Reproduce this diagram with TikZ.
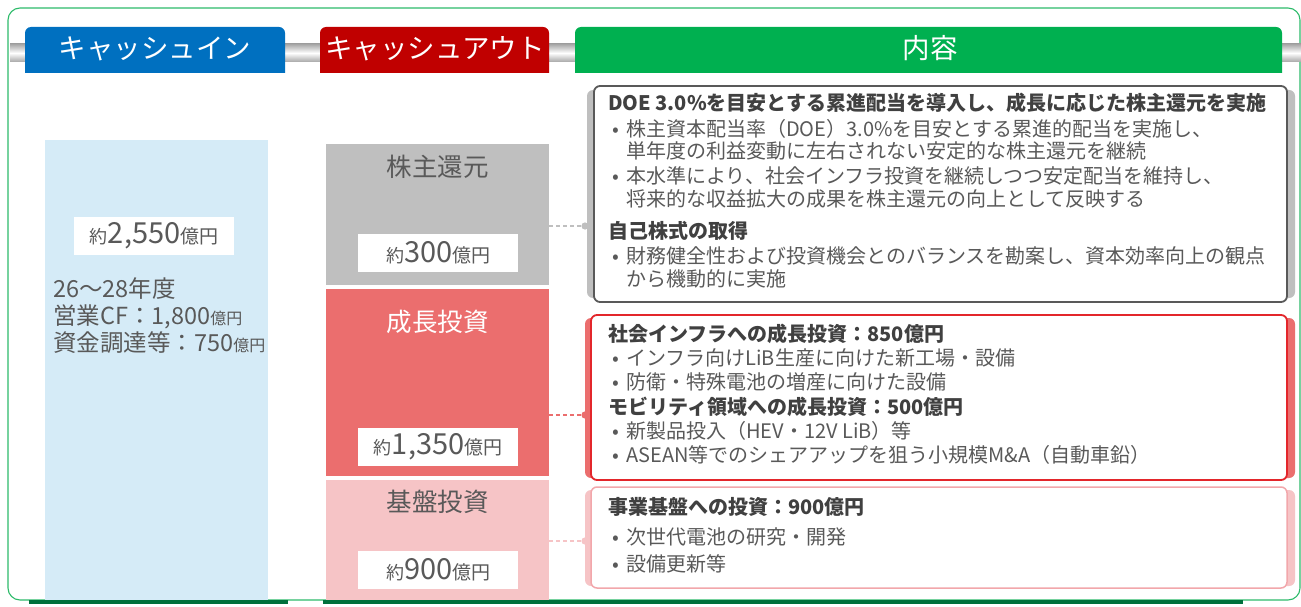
\documentclass[tikz,border=0pt]{standalone}
\usepackage{fontspec}
\setmainfont{Noto Sans CJK JP}
\definecolor{hblue}{HTML}{0070C0}
\definecolor{hred}{HTML}{C00000}
\definecolor{hgreen}{HTML}{00B050}
\definecolor{framegreen}{HTML}{2DBB6A}
\definecolor{dkgreen}{HTML}{00703C}
\definecolor{ltblue}{HTML}{D5EBF7}
\definecolor{boxgray}{HTML}{BFBFBF}
\definecolor{boxred}{HTML}{EB6E6E}
\definecolor{boxpink}{HTML}{F6C4C6}
\definecolor{txtgray}{HTML}{595959}
\definecolor{ttlgray}{HTML}{404040}
\definecolor{bord1}{HTML}{595959}
\definecolor{bord2}{HTML}{E3262B}
\definecolor{bord3}{HTML}{F2A7AB}
\begin{document}
\begin{tikzpicture}[x=1pt,y=-1pt,
  txt/.style={anchor=base west, inner sep=0pt, text=txtgray, font=\fontsize{20}{23}\selectfont},
  ttl/.style={txt, text=ttlgray, font=\fontsize{20}{23}\selectfont\bfseries},
  lefttxt/.style={anchor=base west, inner sep=0pt, text=txtgray, font=\fontsize{23.5}{26}\selectfont},
  htxt/.style={anchor=base, inner sep=0pt, text=white, font=\fontsize{27.5}{30}\selectfont},
  lbl/.style={anchor=base, inner sep=0pt, font=\fontsize{25.5}{28}\selectfont},
  valbox/.style={fill=white, minimum width=160pt, minimum height=38pt, inner sep=0pt, anchor=north west, text=txtgray},
  outbox/.style={minimum width=223pt, inner sep=0pt, anchor=north west},
  conn/.style={dash pattern=on 4pt off 3pt, line width=1.2pt},
]
\useasboundingbox (0,0) rectangle (1301,607);
\fill[white] (0,0) rectangle (1301,607);
% outer frame
\draw[framegreen, line width=1.1pt, rounded corners=12pt] (8,8) rectangle (1300,600);
% bottom dark green bars
\fill[dkgreen] (29,600) rectangle (288,604);
\fill[dkgreen] (323,600) rectangle (1243,604);
% metallic bar
\shade[top color=gray!70, bottom color=gray!70, middle color=white] (10,44) rectangle (1301,62);
% headers
\fill[hblue] (25,73) [rounded corners=6pt] -- (25,27) -- (285,27) [sharp corners] -- (285,73) -- cycle;
\fill[hred] (320,73) [rounded corners=6pt] -- (320,27) -- (549,27) [sharp corners] -- (549,73) -- cycle;
\fill[hgreen] (575,73) [rounded corners=6pt] -- (575,27) -- (1282,27) [sharp corners] -- (1282,73) -- cycle;
\node[htxt] (hin) at (155,59) {キャッシュイン};
\node[htxt] (hout) at (435,59) {キャッシュアウト};
\node[htxt] (hcon) at (930,59) {内容};
% cash in column
\node[fill=ltblue, minimum width=223pt, minimum height=460pt, inner sep=0pt, anchor=north west] (cin) at (45,140) {};
\node[valbox, font=\fontsize{18}{20}\selectfont] (vin) at (74,217) {約{\fontsize{29}{30}\selectfont 2,550}{\fontsize{19}{20}\selectfont 億円}};
\node[lefttxt] (l1) at (53,297.5) {26～28年度};
\node[lefttxt] (l2) at (53,324.5) {営業CF：1,800{\fontsize{16}{18}\selectfont 億円}};
\node[lefttxt] (l3) at (53,351.5) {資金調達等：750{\fontsize{16}{18}\selectfont 億円}};
% cash out column
\node[outbox, fill=boxgray, minimum height=141pt] (kabu) at (326,144) {};
\node[outbox, fill=boxred, minimum height=187pt] (seicho) at (326,289) {};
\node[outbox, fill=boxpink, minimum height=120pt] (kiban) at (326,480) {};
\node[lbl, text=txtgray] (kabuL) at (437.5,176) {株主還元};
\node[lbl, text=white] (seichoL) at (437.5,331) {成長投資};
\node[lbl, text=txtgray] (kibanL) at (437.5,511) {基盤投資};
\node[valbox, font=\fontsize{18}{20}\selectfont] (v1) at (358,234) {約{\fontsize{29}{30}\selectfont 300}{\fontsize{19}{20}\selectfont 億円}};
\node[valbox, font=\fontsize{18}{20}\selectfont] (v2) at (358,428) {約{\fontsize{29}{30}\selectfont 1,350}{\fontsize{19}{20}\selectfont 億円}};
\node[valbox, font=\fontsize{18}{20}\selectfont] (v3) at (358,551) {約{\fontsize{29}{30}\selectfont 900}{\fontsize{19}{20}\selectfont 億円}};
% content boxes
\fill[boxgray, rounded corners=6pt] (587,90) rectangle (1295,298);
\draw[bord1, line width=1.8pt, fill=white, rounded corners=6pt] (594,86) rectangle (1287,302);
\node[inner sep=0pt] (c1) at (940.5,194) {};
\fill[boxred, rounded corners=6pt] (585,318) rectangle (1295,478);
\draw[bord2, line width=1.8pt, fill=white, rounded corners=6pt] (591,315) rectangle (1287,480);
\node[inner sep=0pt] (c2) at (939,397.5) {};
\fill[boxpink, rounded corners=6pt] (585,490) rectangle (1295,586);
\draw[bord3, line width=1.5pt, fill=white, rounded corners=6pt] (591,487) rectangle (1287,588);
\node[inner sep=0pt] (c3) at (939,537.5) {};
% connectors
\coordinate (d1) at (585,226);
\coordinate (d2) at (585,415);
\coordinate (d3) at (585,541);
\draw[conn, boxgray] (d1 -| kabu.east) -- (d1);
\fill[boxgray] (d1) circle (3.6pt);
\draw[conn, boxred] (d2 -| seicho.east) -- (d2);
\fill[boxred] (d2) circle (3.6pt);
\draw[conn, boxpink] (d3 -| kiban.east) -- (d3);
\fill[boxpink] (d3) circle (3.6pt);
% box 1 text
\node[ttl] (t11) at (608,111) {DOE 3.0\%を目安とする累進配当を導入し、成長に応じた株主還元を実施};
\node[txt] (t12) at (605,136) {\makebox[21pt][c]{•}株主資本配当率（DOE）3.0\%を目安とする累進的配当を実施し、};
\node[txt] (t13) at (626,159) {単年度の利益変動に左右されない安定的な株主還元を継続};
\node[txt] (t14) at (605,183) {\makebox[21pt][c]{•}本水準により、社会インフラ投資を継続しつつ安定配当を維持し、};
\node[txt] (t15) at (626,206) {将来的な収益拡大の成果を株主還元の向上として反映する};
\node[ttl] (t16) at (608,238) {自己株式の取得};
\node[txt] (t17) at (605,263) {\makebox[21pt][c]{•}財務健全性および投資機会とのバランスを勘案し、資本効率向上の観点};
\node[txt] (t18) at (626,286) {から機動的に実施};
% box 2 text
\node[ttl] (t21) at (608,341) {社会インフラへの成長投資：850億円};
\node[txt] (t22) at (605,365) {\makebox[21pt][c]{•}インフラ向けLiB生産に向けた新工場・設備};
\node[txt] (t23) at (605,389) {\makebox[21pt][c]{•}防衛・特殊電池の増産に向けた設備};
\node[ttl] (t24) at (608,414) {モビリティ領域への成長投資：500億円};
\node[txt] (t25) at (605,438) {\makebox[21pt][c]{•}新製品投入（HEV・12V LiB）等};
\node[txt] (t26) at (605,462) {\makebox[21pt][c]{•}ASEAN等でのシェアアップを狙う小規模M\&A（自動車鉛）};
% box 3 text
\node[ttl] (t31) at (608,514) {事業基盤への投資：900億円};
\node[txt] (t32) at (605,544) {\makebox[21pt][c]{•}次世代電池の研究・開発};
\node[txt] (t33) at (605,571) {\makebox[21pt][c]{•}設備更新等};
\end{tikzpicture}
\end{document}
